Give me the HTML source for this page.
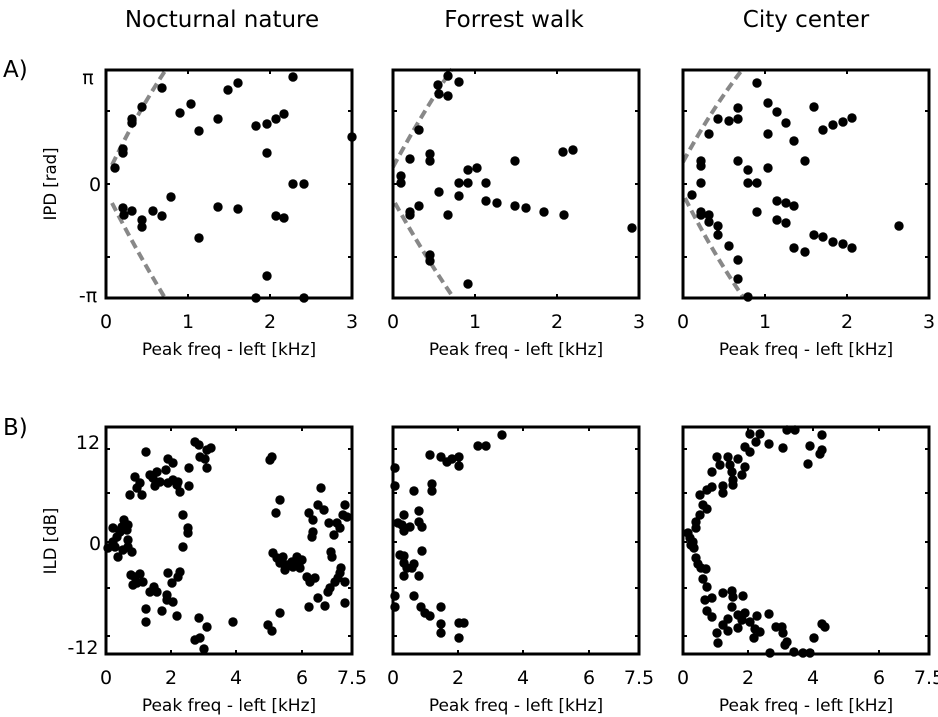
<!DOCTYPE html>
<html><head><meta charset="utf-8"><style>
html,body{margin:0;padding:0;background:#fff;}
svg{display:block;font-family:"DejaVu Sans","Liberation Sans",sans-serif;}
</style></head><body>
<svg id="s" width="938" height="717" viewBox="0 0 938 717" xmlns="http://www.w3.org/2000/svg">
<g font-size="23" fill="#000">
<text x="222" y="27" text-anchor="middle">Nocturnal nature</text>
<text x="514" y="27" text-anchor="middle">Forrest walk</text>
<text x="806" y="27" text-anchor="middle">City center</text>
<text x="3" y="77">A)</text>
<text x="3" y="435">B)</text>
</g>
<g font-size="19" fill="#000" text-anchor="middle">
<text x="88" y="84">π</text><text x="95" y="191">0</text><text x="88" y="302">-π</text>
<text x="88" y="449">12</text><text x="95" y="550">0</text><text x="83" y="654">-12</text>
</g>
<g font-size="16.5" fill="#000" text-anchor="middle">
<text transform="translate(56,184) rotate(-90)">IPD [rad]</text>
<text transform="translate(56,541) rotate(-90)">ILD [dB]</text>
</g>
<g id="p"></g>
</svg>
<script>
var NS="http://www.w3.org/2000/svg",P=document.getElementById('p');
function el(t,a,txt){var e=document.createElementNS(NS,t);for(var k in a)e.setAttribute(k,a[k]);if(txt!=null)e.textContent=txt;P.appendChild(e);return e;}
var cols=[106,393,683],W=246;
var A=[
[[9,98],[17,79],[17,83],[26,49],[26,53],[36,37],[56,18],[74,43],[85,34],[93,61],[112,49],[122,20],[132,13],[150,56],[161,54],[170,49],[178,44],[187,7],[161,83],[246,67],[187,114],[198,114],[65,127],[17,138],[18,145],[26,141],[36,150],[36,157],[47,141],[56,146],[93,168],[112,137],[132,139],[170,146],[178,148],[161,206],[150,228],[198,228]],
[[45,15],[55,6],[66,12],[46,24],[55,26],[26,60],[17,89],[37,84],[37,91],[8,106],[8,113],[75,100],[84,98],[122,91],[170,82],[180,80],[66,113],[75,113],[93,113],[46,122],[66,126],[93,131],[104,133],[122,136],[133,138],[151,142],[171,145],[26,136],[17,142],[17,145],[55,145],[239,158],[37,185],[37,191],[75,214]],
[[74,13],[85,33],[94,42],[103,53],[55,38],[35,49],[46,51],[55,49],[26,64],[85,64],[111,71],[131,37],[140,60],[150,55],[160,52],[169,48],[18,91],[18,96],[55,91],[65,100],[85,98],[122,91],[18,113],[65,113],[74,113],[9,125],[94,131],[103,133],[111,136],[18,142],[18,145],[26,145],[26,152],[74,142],[35,156],[35,165],[94,150],[103,153],[131,165],[140,167],[150,172],[160,174],[169,178],[111,178],[122,182],[216,156],[46,176],[55,190],[55,209],[65,227]]];
var B=[
[[40,25],[29,50],[34,56],[31,61],[24,68],[36,68],[44,48],[47,51],[51,45],[49,59],[54,55],[60,43],[62,32],[67,36],[62,56],[67,53],[72,55],[74,65],[71,58],[83,59],[83,41],[89,15],[93,18],[94,30],[99,32],[101,23],[105,21],[101,41],[164,33],[166,30],[77,88],[82,101],[82,106],[77,120],[7,101],[11,110],[14,105],[18,93],[22,98],[21,103],[7,115],[2,121],[9,120],[12,130],[17,123],[22,120],[26,125],[22,113],[16,100],[25,148],[29,150],[34,147],[37,155],[31,156],[27,158],[44,165],[48,160],[51,165],[61,168],[61,173],[62,146],[67,175],[72,150],[74,145],[66,156],[40,182],[56,184],[71,189],[40,195],[93,191],[101,200],[89,213],[94,211],[98,222],[127,195],[162,198],[166,204],[174,73],[170,86],[167,126],[171,131],[176,135],[179,143],[181,138],[186,135],[191,130],[192,136],[196,133],[194,141],[187,140],[174,136],[177,130],[174,186],[203,86],[207,93],[206,110],[207,105],[201,150],[204,155],[209,151],[203,180],[212,171],[215,61],[212,78],[218,83],[223,96],[231,96],[234,101],[228,108],[237,88],[241,90],[239,78],[225,125],[226,130],[224,161],[222,165],[229,155],[232,151],[234,146],[235,141],[239,155],[239,176],[219,179]],
[[109,8],[85,19],[93,19],[37,28],[48,30],[54,35],[59,32],[66,30],[66,39],[2,41],[2,59],[21,64],[39,57],[39,64],[26,84],[11,88],[5,96],[9,98],[11,104],[17,100],[26,95],[29,100],[29,124],[7,128],[11,129],[11,136],[14,141],[19,141],[21,137],[11,149],[26,149],[2,169],[2,180],[21,169],[28,180],[32,186],[37,189],[48,180],[48,197],[48,206],[66,196],[71,196],[66,211]],
[[67,7],[77,7],[104,3],[112,3],[139,8],[73,15],[86,17],[100,21],[127,19],[139,23],[137,27],[125,37],[62,20],[67,25],[34,30],[45,30],[55,32],[37,38],[47,38],[62,40],[29,45],[49,45],[59,48],[50,53],[50,58],[29,60],[24,63],[40,59],[40,66],[17,68],[20,78],[24,82],[17,88],[13,95],[13,101],[5,106],[7,111],[10,115],[11,121],[8,118],[13,131],[15,137],[18,141],[23,142],[20,152],[24,160],[22,173],[29,171],[40,166],[49,164],[50,170],[49,180],[60,169],[24,184],[29,190],[40,198],[45,192],[45,204],[34,206],[35,216],[55,188],[62,186],[59,193],[55,201],[67,195],[74,189],[86,187],[72,202],[77,205],[71,211],[93,200],[99,200],[100,206],[104,215],[102,218],[87,226],[111,225],[120,226],[127,226],[139,197],[142,200],[131,211]]];
var dashA=[["M6,95 Q30,45 59,1","M6,133 Q30,180 59,228"],["M0,97 Q28,45 59,-1","M2,133 Q28,180 60,227"],["M0,92 Q28,40 59,0","M2,128 Q28,180 60,227"]];
function panel(x0,y0,h,pts,xt,yt,xl,dash){
  if(dash){dash.forEach(function(d){el('path',{d:d,transform:'translate('+x0+','+y0+')',fill:'none',stroke:'#888',"stroke-width":4,"stroke-dasharray":"9,5"});});}
  pts.forEach(function(p){el('circle',{cx:x0+p[0],cy:y0+p[1],r:4.7,fill:'#000'});});
  xt.forEach(function(t){el('line',{x1:x0+t,x2:x0+t,y1:y0,y2:y0+4,stroke:'#000','stroke-width':2});el('line',{x1:x0+t,x2:x0+t,y1:y0+h,y2:y0+h-4,stroke:'#000','stroke-width':2});});
  yt.forEach(function(t){el('line',{x1:x0,x2:x0+4,y1:y0+t,y2:y0+t,stroke:'#000','stroke-width':2});el('line',{x1:x0+W,x2:x0+W-4,y1:y0+t,y2:y0+t,stroke:'#000','stroke-width':2});});
  el('rect',{x:x0,y:y0,width:W,height:h,fill:'none',stroke:'#000','stroke-width':3});
  xl.forEach(function(l){el('text',{x:x0+l[0],y:y0+h+30,'text-anchor':'middle','font-size':19},l[1]);});
  el('text',{x:x0+W/2,y:y0+h+57,'text-anchor':'middle','font-size':17},'Peak freq - left [kHz]');
}
for(var i=0;i<3;i++){
  panel(cols[i],70,228,A[i],[82,164],[41,114,187],[[0,'0'],[82,'1'],[164,'2'],[246,'3']],dashA[i]);
  panel(cols[i],427,227,B[i],[65,130,196],[22,66,115,161,209],[[0,'0'],[65,'2'],[130,'4'],[196,'6'],[246,'7.5']],null);
}
</script>
</body></html>
